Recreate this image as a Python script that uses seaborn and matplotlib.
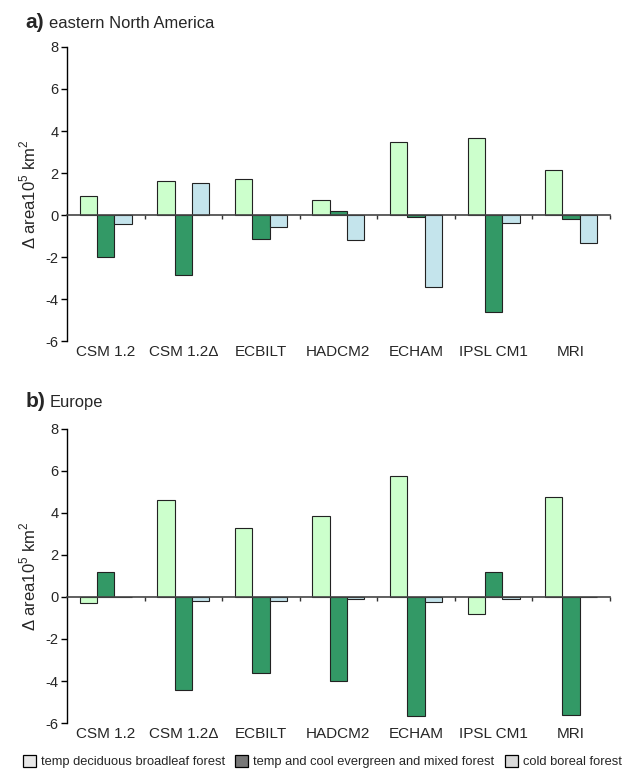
import numpy as np
import pandas as pd
import matplotlib
matplotlib.use('Agg')
import matplotlib.pyplot as plt
from matplotlib.patches import Patch
import seaborn as sns

models = ['CSM 1.2', 'CSM 1.2Δ', 'ECBILT', 'HADCM2', 'ECHAM', 'IPSL CM1', 'MRI']
forests = ['temp deciduous broadleaf forest',
           'temp and cool evergreen and mixed forest',
           'cold boreal forest']

# panel a: eastern North America (10^5 km^2)
na_decid = [0.92, 1.62, 1.70, 0.71, 3.46, 3.68, 2.14]
na_everg = [-1.98, -2.83, -1.13, 0.20, -0.08, -4.60, -0.19]
na_boreal = [-0.43, 1.54, -0.57, -1.17, -3.41, -0.38, -1.33]

# panel b: Europe
eu_decid = [-0.27, 4.60, 3.28, 3.86, 5.76, -0.80, 4.75]
eu_everg = [1.20, -4.45, -3.60, -4.00, -5.68, 1.17, -5.63]
eu_boreal = [0.0, -0.19, -0.20, -0.11, -0.24, -0.10, -0.02]

bar_colors = ['#CCFFCC', '#339966', '#C4E4EC']
legend_colors = ['#E8E8E8', '#777777', '#D9D9D9']


def long_table(decid, everg, boreal):
    rows = []
    for vals, f in zip([decid, everg, boreal], forests):
        for m, v in zip(models, vals):
            rows.append({'model': m, 'forest': f, 'value': v})
    return pd.DataFrame(rows)


sns.set_style('white')
plt.rcParams['font.family'] = ['Liberation Sans', 'DejaVu Sans']
plt.rcParams['mathtext.fontset'] = 'custom'
plt.rcParams['mathtext.rm'] = 'Liberation Sans'

fig = plt.figure(figsize=(6.32, 7.7), dpi=100)
ax_a = fig.add_axes([0.106, 0.557, 0.859, 0.382])
ax_b = fig.add_axes([0.106, 0.061, 0.859, 0.382])

panels = [(ax_a, long_table(na_decid, na_everg, na_boreal)),
          (ax_b, long_table(eu_decid, eu_everg, eu_boreal))]

for ax, df in panels:
    sns.barplot(data=df, x='model', y='value', hue='forest', order=models,
                hue_order=forests, palette=bar_colors, saturation=1,
                width=0.67, edgecolor='#222222', linewidth=0.8,
                legend=False, ax=ax)
    ax.set_xlim(-0.5, 6.5)
    ax.set_ylim(-6, 8)
    ax.set_yticks(np.arange(-6, 9, 2))
    ax.set_yticklabels([str(v) for v in range(-6, 9, 2)], fontsize=10.5)
    for s in ['top', 'right']:
        ax.spines[s].set_visible(False)
    ax.spines['left'].set_color('black')
    ax.spines['left'].set_linewidth(1.0)
    ax.spines['bottom'].set_position(('data', 0))
    ax.spines['bottom'].set_color('#444444')
    ax.spines['bottom'].set_linewidth(1.2)
    ax.tick_params(axis='y', direction='out', length=4, width=1, color='black',
                   left=True, pad=2)
    # category labels below the plot, boundary ticks on the zero line
    y0 = ax.transData.transform((0, 0))[1]
    yb = ax.transData.transform((0, -6))[1]
    pad = (y0 - yb) * 72 / fig.dpi + 3
    ax.set_xticks(range(len(models)))
    ax.set_xticklabels(models, fontsize=11)
    ax.tick_params(axis='x', which='major', length=0, pad=pad)
    ax.set_xticks(np.arange(0.5, 7, 1), minor=True)
    ax.tick_params(axis='x', which='minor', direction='out', length=3,
                   width=1, color='#333333', bottom=True)
    ax.set_xlabel('')
    ax.set_ylabel('Δ area10$^{5}$ km$^{2}$', fontsize=12, labelpad=5)

fig.text(0.040, 0.964, 'a)', fontsize=15, fontweight='bold', va='baseline')
fig.text(0.078, 0.964, 'eastern North America', fontsize=11.9, va='baseline')
fig.text(0.040, 0.471, 'b)', fontsize=15, fontweight='bold', va='baseline')
fig.text(0.078, 0.471, 'Europe', fontsize=11.9, va='baseline')

handles = [Patch(facecolor=c, edgecolor='black', linewidth=0.9, label=f)
           for c, f in zip(legend_colors, forests)]
fig.legend(handles=handles, loc='center', bbox_to_anchor=(0.51, 0.011),
           ncol=3, frameon=False, fontsize=9.25, handlelength=1.0,
           handleheight=1.1, handletextpad=0.4, columnspacing=0.8,
           borderaxespad=0, borderpad=0)

fig.savefig('out.png', dpi=100)
